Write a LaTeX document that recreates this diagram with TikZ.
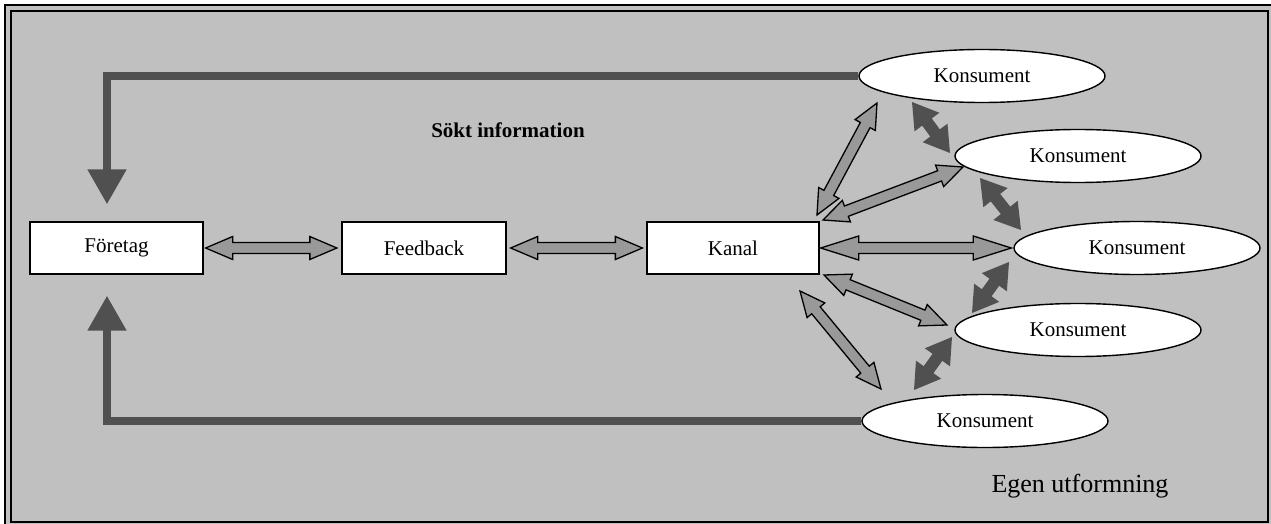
\documentclass[tikz,border=0pt]{standalone}
\usepackage{fontspec}
\setmainfont{Liberation Serif}
\usetikzlibrary{arrows.meta,calc,shapes.geometric}

\definecolor{panel}{RGB}{192,192,192}
\definecolor{flow}{RGB}{80,80,80}
\definecolor{link}{RGB}{153,153,153}

% Two-headed block arrow between two named points.
% #1 style, #2 start, #3 end, #4 shaft half width, #5 head half width, #6 head length
\newcommand\twowayarrow[6]{%
  \pgfmathanglebetweenpoints{\pgfpointanchor{#2}{center}}{\pgfpointanchor{#3}{center}}%
  \edef\twang{\pgfmathresult}%
  \pgfpointdiff{\pgfpointanchor{#2}{center}}{\pgfpointanchor{#3}{center}}%
  \pgfgetlastxy{\twdx}{\twdy}%
  \pgfmathveclen{\twdx}{\twdy}%
  \edef\twlen{\pgfmathresult}%
  \begin{scope}[shift={(#2)},rotate=\twang]
    \path[#1] (0,0) -- (#6,#5) -- (#6,#4) -- ({\twlen-#6},#4) -- ({\twlen-#6},#5)
      -- (\twlen,0) -- ({\twlen-#6},-#5) -- ({\twlen-#6},-#4) -- (#6,-#4) -- (#6,-#5) -- cycle;
  \end{scope}}

\begin{document}
\begin{tikzpicture}[x=1pt,y=-1pt,
  label/.style={font=\fontsize{21}{25}\selectfont},
  box/.style={label,draw,line width=1.3pt,fill=white,minimum height=52pt,inner sep=0pt},
  cons/.style={label,ellipse,draw,line width=1.4pt,fill=white,minimum width=246pt,minimum height=53pt,inner sep=0pt},
  flowline/.style={draw=flow,line width=8pt,line join=miter,-{Triangle[width=37pt,length=35pt]}},
  linkarrow/.style={draw=black,line width=1.3pt,fill=link,line join=miter},
  peerarrow/.style={fill=flow}]

\useasboundingbox (0,0) rectangle (1271,524);
\fill[white] (0,0) rectangle (1271,524);
\fill[panel] (4,4) rectangle (1271,524);
\draw[line width=1.6pt] (5,524) -- (5,5) -- (1271,5);
\draw[line width=2pt] (11,11) rectangle (1267.5,522);

% boxes
\node[box,minimum width=173pt] (foretag) at (116.5,248) {Företag};
\node[box,minimum width=164pt] (feedback) at (424,248) {Feedback};
\node[box,minimum width=172pt] (kanal) at (733,248) {Kanal};

% consumers
\node[cons] (e1) at (982,76) {Konsument};
\node[cons] (e2) at (1078,156) {Konsument};
\node[cons] (e3) at (1137,248) {Konsument};
\node[cons] (e4) at (1078,330) {Konsument};
\node[cons] (e5) at (985,421) {Konsument};

% feedback loops back to the company
\draw[flowline] (e1.west) -| ($(foretag.north)+(-9.5,-17)$);
\draw[flowline] (e5.west) -| ($(foretag.south)+(-9.5,21)$);

% arrow end points
\coordinate (fa) at ($(foretag.east)+(2,0)$);
\coordinate (fb) at ($(feedback.west)+(-4.5,0)$);
\coordinate (ga) at ($(feedback.east)+(4,0)$);
\coordinate (gb) at ($(kanal.west)+(-4,0)$);
\coordinate (k1) at (817,215);   \coordinate (c1) at (877,103);
\coordinate (k2) at (823,220);   \coordinate (c2) at (963,167);
\coordinate (k3) at ($(kanal.east)+(1,0)$); \coordinate (c3) at ($(e3.west)+(-2,0)$);
\coordinate (k4) at (824,275);   \coordinate (c4) at (947,325);
\coordinate (k5) at (800,291);   \coordinate (c5) at (881,389);
\coordinate (p1) at (912,102);   \coordinate (q1) at (950,153);
\coordinate (p2) at (980,178);   \coordinate (q2) at (1021,230);
\coordinate (p3) at (1009,262);  \coordinate (q3) at (972,313);
\coordinate (p4) at (952,337);   \coordinate (q4) at (914,390);

% channel links
\twowayarrow{linkarrow}{fa}{fb}{5.5}{11.5}{27}
\twowayarrow{linkarrow}{ga}{gb}{5.5}{11.5}{27}
\twowayarrow{linkarrow}{k1}{c1}{5.5}{11.5}{25}
\twowayarrow{linkarrow}{k2}{c2}{5.5}{11.5}{25}
\twowayarrow{linkarrow}{k3}{c3}{5.5}{12}{38}
\twowayarrow{linkarrow}{k4}{c4}{5.5}{11.5}{26}
\twowayarrow{linkarrow}{k5}{c5}{5.5}{11.5}{25}

% consumer-to-consumer exchange
\twowayarrow{peerarrow}{p1}{q1}{6}{15.5}{25}
\twowayarrow{peerarrow}{p2}{q2}{6}{15.5}{25}
\twowayarrow{peerarrow}{p3}{q3}{6}{15.5}{25}
\twowayarrow{peerarrow}{p4}{q4}{6}{15.5}{25}

\node[font=\bfseries\fontsize{21}{25}\selectfont] (sokt) at (508,130) {Sökt information};
\node[font=\fontsize{26}{30}\selectfont,anchor=base] (egen) at (1080,492) {Egen utformning};
\end{tikzpicture}
\end{document}
